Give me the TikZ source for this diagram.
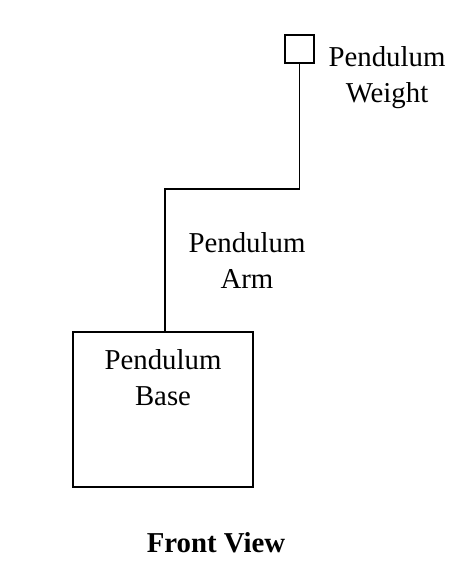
\documentclass[tikz,border=0pt]{standalone}
\usepackage{fontspec}
\setmainfont{Liberation Serif}
\usetikzlibrary{positioning}

\begin{document}
\begin{tikzpicture}[x=1pt, y=-1pt, line width=1.1pt,
    part/.style={draw, inner sep=0pt},
    tag/.style={align=center, inner sep=0pt, font=\fontsize{28.8}{36}\selectfont}]
  \useasboundingbox (0,0) rectangle (458,578);
  \node[part, minimum width=29pt, minimum height=28pt] (weight) at (299.5,49) {};
  \node[part, minimum width=180pt, minimum height=155pt] (base) at (163,409.5) {};
  \coordinate (bend top) at (299.5,189);
  \coordinate (bend low) at (165,189);
  \draw (weight.south) -- (bend top) -- (bend low) -- (bend low |- base.north);
  \node[tag] (weight label) at (387,78) {Pendulum\\Weight};
  \node[tag] (arm label) at (247,261) {Pendulum\\Arm};
  \node[tag] (base label) at (163,378) {Pendulum\\Base};
  \node[tag, anchor=base, font=\fontsize{28.8}{36}\selectfont\bfseries] (view) at (216,552) {Front View};
\end{tikzpicture}
\end{document}
